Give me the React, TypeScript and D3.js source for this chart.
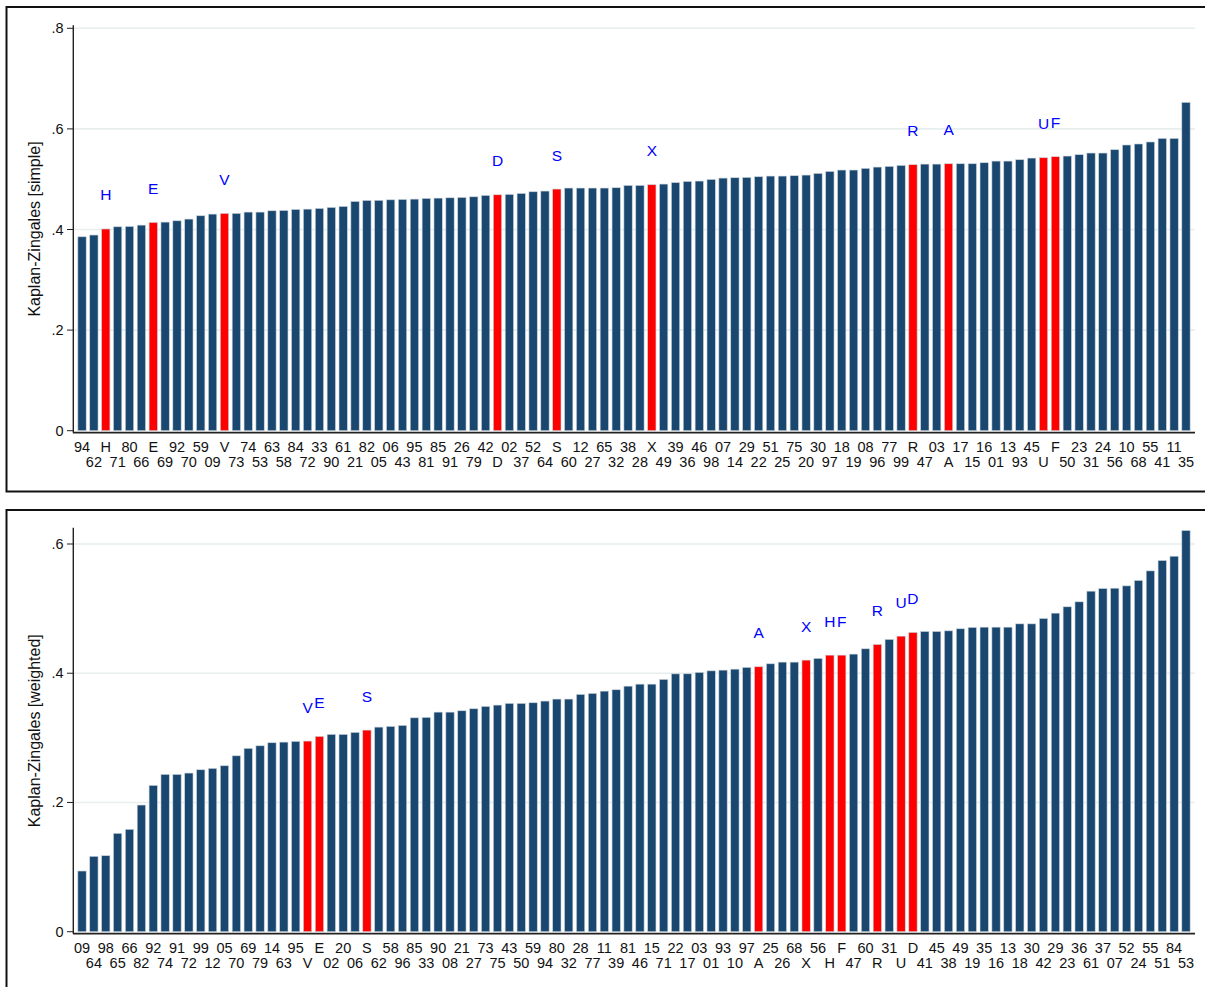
import React from "react";
import * as d3 from "d3";

// Kaplan-Zingales index by country/code, sorted ascending (simple measure)
const simpleLabels = [
  "94","62","H","71","80","66","E","69","92","70",
  "59","09","V","73","74","53","63","58","84","72",
  "33","90","61","21","82","05","06","43","95","81",
  "85","91","26","79","42","D","02","37","52","64",
  "S","60","12","27","65","32","38","28","X","49",
  "39","36","46","98","07","14","29","22","51","25",
  "75","20","30","97","18","19","08","96","77","99",
  "R","47","03","A","17","15","16","01","13","93",
  "45","U","F","50","23","31","24","56","10","68",
  "55","41","11","35",
];
const simpleValues = [
  0.3855, 0.389, 0.401, 0.4054, 0.406, 0.4087, 0.414, 0.4147, 0.4173, 0.4207,
  0.4273, 0.4306, 0.4319, 0.432, 0.4346, 0.4346, 0.4372, 0.4378, 0.4398, 0.4405,
  0.4418, 0.4438, 0.4458, 0.4557, 0.4577, 0.458, 0.459, 0.4597, 0.4604, 0.4617,
  0.4624, 0.463, 0.4637, 0.465, 0.4677, 0.469, 0.4697, 0.4717, 0.475, 0.4764,
  0.4804, 0.4824, 0.4824, 0.4824, 0.4824, 0.483, 0.4876, 0.4876, 0.489, 0.4903,
  0.4932, 0.4955, 0.4963, 0.4995, 0.5022, 0.5029, 0.5035, 0.5049, 0.5062, 0.5062,
  0.5069, 0.5082, 0.5115, 0.5154, 0.5182, 0.5182, 0.5215, 0.5241, 0.5254, 0.5274,
  0.5288, 0.53, 0.53, 0.5307, 0.5307, 0.5307, 0.5327, 0.536, 0.536, 0.5387,
  0.542, 0.5427, 0.5447, 0.546, 0.5487, 0.552, 0.552, 0.5586, 0.568, 0.57,
  0.574, 0.581, 0.581, 0.6527,
];
const simpleTicks = [0, 0.2, 0.4, 0.6, 0.8];
const simpleTickLabels = ["0", ".2", ".4", ".6", ".8"];

// Weighted measure
const weightedLabels = [
  "09","64","98","65","66","82","92","74","91","72",
  "99","12","05","70","69","79","14","63","95","V",
  "E","02","20","06","S","62","58","96","85","33",
  "90","08","21","27","73","75","43","50","59","94",
  "80","32","28","77","11","39","81","46","15","71",
  "22","17","03","01","93","10","97","A","25","26",
  "68","X","56","H","F","47","60","R","31","U",
  "D","41","45","38","49","19","35","16","13","18",
  "30","42","29","23","36","61","37","07","52","24",
  "55","51","84","53",
];
const weightedValues = [
  0.0939, 0.1166, 0.1176, 0.1522, 0.1584, 0.196, 0.2264, 0.2434, 0.2434, 0.2455,
  0.2506, 0.2527, 0.2568, 0.2722, 0.2837, 0.2877, 0.2924, 0.2934, 0.2945, 0.295,
  0.3022, 0.3053, 0.3053, 0.3084, 0.312, 0.3166, 0.3177, 0.3192, 0.331, 0.3316,
  0.3398, 0.3398, 0.3419, 0.345, 0.3486, 0.3507, 0.3533, 0.3533, 0.3543, 0.3569,
  0.36, 0.36, 0.3672, 0.3687, 0.3723, 0.3744, 0.38, 0.3831, 0.3831, 0.3904,
  0.399, 0.3991, 0.4012, 0.4037, 0.4048, 0.4063, 0.409, 0.41, 0.4146, 0.4172,
  0.4172, 0.4203, 0.4229, 0.428, 0.428, 0.4296, 0.4378, 0.4445, 0.4523, 0.4574,
  0.4631, 0.4646, 0.4646, 0.4656, 0.4688, 0.4708, 0.4713, 0.4713, 0.4713, 0.4764,
  0.4764, 0.4847, 0.493, 0.5028, 0.5105, 0.527, 0.5311, 0.5316, 0.5352, 0.5435,
  0.5584, 0.5744, 0.5811, 0.6208,
];
const weightedTicks = [0, 0.2, 0.4, 0.6];
const weightedTickLabels = ["0", ".2", ".4", ".6"];

const NAVY = "#1a476f";
const RED = "#ff0000";
const FONT = "'Liberation Sans', Arial, Helvetica, sans-serif";

type PanelProps = {
  labels: string[];
  values: number[];
  ticks: number[];
  tickLabels: string[];
  title: string;
  axisTop: number;
  zeroY: number;
  topY: number;
  frameTop: number;
  frameBottom: number;
};

function Panel(p: PanelProps) {
  const x = d3
    .scaleBand<number>()
    .domain(d3.range(p.labels.length))
    .range([73, 1195])
    .paddingInner(0.3)
    .paddingOuter(0.41);
  const y = d3.scaleLinear().domain([0, p.ticks[p.ticks.length - 1]]).range([p.zeroY, p.topY]);
  const axisY = p.zeroY + 2;
  const isLetter = (s: string) => /^[A-Z]$/.test(s);

  return (
    <g>
      <rect
        x={6.5}
        y={p.frameTop}
        width={1240}
        height={p.frameBottom - p.frameTop}
        fill="white"
        stroke="#111"
        strokeWidth={2}
      />
      {/* gridlines */}
      {p.ticks.map((t, i) =>
        t === 0 ? null : (
          <line key={"g" + i} x1={73} x2={1195} y1={y(t)} y2={y(t)} stroke="#e6eeee" strokeWidth={1.6} />
        )
      )}
      {/* bars */}
      {p.values.map((v, i) => (
        <rect
          key={"b" + i}
          x={x(i)}
          y={y(v)}
          width={x.bandwidth()}
          height={y(0) - y(v)}
          fill={isLetter(p.labels[i]) ? RED : NAVY}
          stroke="#c8d2da"
          strokeWidth={0.6}
        />
      ))}
      {/* marker letters above highlighted bars */}
      {p.values.map((v, i) =>
        isLetter(p.labels[i]) ? (
          <text
            key={"m" + i}
            x={x(i)! + x.bandwidth() / 2}
            y={y(v) - 28.5}
            textAnchor="middle"
            fontSize={15.5}
            fontFamily={FONT}
            fill="#0000ff"
          >
            {p.labels[i]}
          </text>
        ) : null
      )}
      {/* y axis */}
      <line x1={73.3} x2={73.3} y1={p.axisTop} y2={axisY} stroke="#222" strokeWidth={1.4} />
      {p.ticks.map((t, i) => (
        <g key={"t" + i}>
          <line x1={67} x2={73.3} y1={y(t)} y2={y(t)} stroke="#222" strokeWidth={1} />
          <text
            x={63.5}
            y={y(t) + 5}
            textAnchor="end"
            fontSize={14.5}
            fontFamily={FONT}
            fill="#111"
          >
            {p.tickLabels[i]}
          </text>
        </g>
      ))}
      <text
        transform={`translate(40, ${(p.axisTop + axisY) / 2}) rotate(-90)`}
        textAnchor="middle"
        fontSize={16}
        fontFamily={FONT}
        fill="#111"
      >
        {p.title}
      </text>
      {/* x axis */}
      <line x1={73} x2={1195} y1={axisY} y2={axisY} stroke="#222" strokeWidth={1.7} />
      {p.labels.map((l, i) => (
        <text
          key={"l" + i}
          x={x(i)! + x.bandwidth() / 2}
          y={axisY + (i % 2 === 0 ? 19 : 34)}
          textAnchor="middle"
          fontSize={14.5}
          fontFamily={FONT}
          fill="#111"
        >
          {l}
        </text>
      ))}
    </g>
  );
}

export default function App() {
  return (
    <svg
      width={1205}
      height={987}
      style={{ position: "absolute", left: 0, top: 0, background: "white" }}
    >
      <rect width={1205} height={987} fill="white" />
      <Panel
        labels={simpleLabels}
        values={simpleValues}
        ticks={simpleTicks}
        tickLabels={simpleTickLabels}
        title="Kaplan-Zingales [simple]"
        axisTop={25.3}
        zeroY={430.7}
        topY={28.3}
        frameTop={7}
        frameBottom={491.5}
      />
      <Panel
        labels={weightedLabels}
        values={weightedValues}
        ticks={weightedTicks}
        tickLabels={weightedTickLabels}
        title="Kaplan-Zingales [weighted]"
        axisTop={527.7}
        zeroY={931.7}
        topY={544}
        frameTop={510}
        frameBottom={1100}
      />
    </svg>
  );
}
